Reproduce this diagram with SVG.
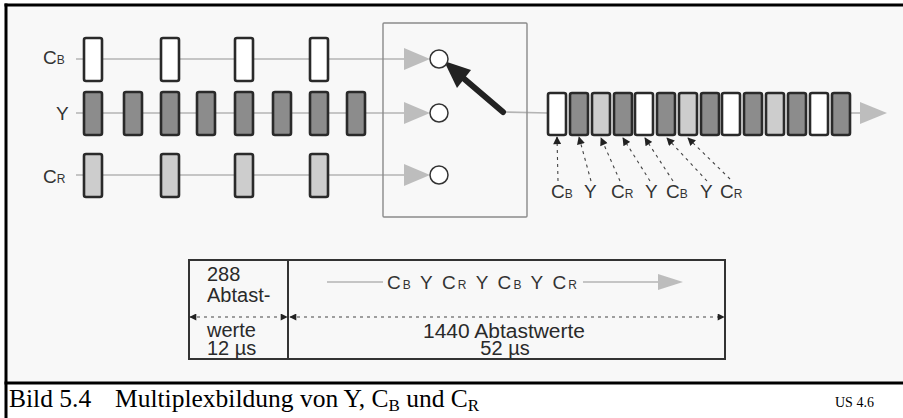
<svg xmlns="http://www.w3.org/2000/svg" width="903" height="418" viewBox="0 0 903 418">
<style>
.bx{stroke:#2a2a2a;stroke-width:2.6}
.w{fill:#ffffff}
.d{fill:#8c8c8c}
.l{fill:#cdcdcd}
.gl{stroke:#b4b4b4;stroke-width:1.6;fill:none}
.gh{fill:#bdbdbd}
.lab{font-family:"Liberation Sans",Arial,sans-serif;font-size:19px;fill:#333}
.sub{font-size:12px}
.tt{font-family:"Liberation Sans",Arial,sans-serif;font-size:20px;fill:#2a2a2a}
.da{stroke:#444;stroke-width:1.1;stroke-dasharray:3 4;fill:none}
.cap{font-family:"Liberation Serif","Times New Roman",serif;fill:#000}
</style>
<defs>
<marker id="ah" viewBox="0 0 10 10" refX="9" refY="5" markerWidth="9" markerHeight="8" markerUnits="userSpaceOnUse" orient="auto">
<path d="M0,0 L10,5 L0,10 z" fill="#222"/>
</marker>
<marker id="ahs" viewBox="0 0 10 10" refX="9" refY="5" markerWidth="8" markerHeight="7" markerUnits="userSpaceOnUse" orient="auto-start-reverse">
<path d="M0,0 L10,5 L0,10 z" fill="#222"/>
</marker>
</defs>
<rect x="0" y="0" width="903" height="418" fill="#ffffff"/>
<rect x="6" y="5" width="897" height="378" fill="#f8f8f8"/>
<g id="frame" fill="none" stroke="#000">
<line x1="4.5" y1="5" x2="903" y2="5" stroke-width="3"/>
<line x1="6" y1="3.5" x2="6" y2="418" stroke-width="3"/>
<line x1="4.5" y1="383" x2="903" y2="383" stroke-width="3"/>
</g>

<g id="connectors">
<line class="gl" x1="76" y1="59" x2="406" y2="59"/>
<line class="gl" x1="76" y1="113" x2="406" y2="113"/>
<line class="gl" x1="76" y1="175" x2="406" y2="175"/>
<polygon class="gh" points="404,48 430,59 404,70"/>
<polygon class="gh" points="404,102 430,113 404,124"/>
<polygon class="gh" points="404,164 430,175 404,186"/>
<line class="gl" x1="503" y1="112" x2="548" y2="113"/>
<line class="gl" x1="850" y1="113" x2="862" y2="113"/>
<polygon class="gh" points="860,102 887,113 860,124"/>
<line x1="503" y1="112" x2="462" y2="77" stroke="#222" stroke-width="6" stroke-linecap="round"/>
<polygon points="444,61 471,70 457,88" fill="#222"/>
<line class="da" marker-end="url(#ah)" x1="558" y1="181" x2="557" y2="137"/>
<line class="da" marker-end="url(#ah)" x1="591" y1="181" x2="579" y2="137"/>
<line class="da" marker-end="url(#ah)" x1="620" y1="181" x2="601" y2="138"/>
<line class="da" marker-end="url(#ah)" x1="650" y1="181" x2="623" y2="138"/>
<line class="da" marker-end="url(#ah)" x1="673" y1="181" x2="645" y2="138"/>
<line class="da" marker-end="url(#ah)" x1="707" y1="181" x2="667" y2="138"/>
<line class="da" marker-end="url(#ah)" x1="730" y1="179" x2="688" y2="138"/>
</g>

<g id="row-cb">
<text class="lab" x="43" y="64">C<tspan class="sub">B</tspan></text>
<rect class="bx w" x="84" y="38" width="18" height="43" rx="2"/>
<rect class="bx w" x="161" y="38" width="18" height="43" rx="2"/>
<rect class="bx w" x="235" y="38" width="18" height="43" rx="2"/>
<rect class="bx w" x="310" y="38" width="18" height="43" rx="2"/>
</g>
<g id="row-y">
<text class="lab" x="56" y="120">Y</text>
<rect class="bx d" x="84" y="92" width="18" height="43" rx="2"/>
<rect class="bx d" x="124" y="92" width="18" height="43" rx="2"/>
<rect class="bx d" x="161" y="92" width="18" height="43" rx="2"/>
<rect class="bx d" x="197" y="92" width="18" height="43" rx="2"/>
<rect class="bx d" x="235" y="92" width="18" height="43" rx="2"/>
<rect class="bx d" x="273" y="92" width="18" height="43" rx="2"/>
<rect class="bx d" x="310" y="92" width="18" height="43" rx="2"/>
<rect class="bx d" x="347" y="92" width="18" height="43" rx="2"/>
</g>
<g id="row-cr">
<text class="lab" x="43" y="183">C<tspan class="sub">R</tspan></text>
<rect class="bx l" x="84" y="154" width="18" height="43" rx="2"/>
<rect class="bx l" x="161" y="154" width="18" height="43" rx="2"/>
<rect class="bx l" x="235" y="154" width="18" height="43" rx="2"/>
<rect class="bx l" x="310" y="154" width="18" height="43" rx="2"/>
</g>

<g id="switch">
<rect x="383" y="23" width="144" height="194" fill="none" stroke="#8a8a8a" stroke-width="1.4" rx="1"/>
<circle cx="439" cy="59" r="9" fill="#fff" stroke="#333" stroke-width="1.5"/>
<circle cx="439" cy="113" r="9" fill="#fff" stroke="#333" stroke-width="1.5"/>
<circle cx="439" cy="175" r="9" fill="#fff" stroke="#333" stroke-width="1.5"/>
</g>

<g id="output-stream">
<rect class="bx w" x="548" y="93" width="18" height="42" rx="2"/>
<rect class="bx d" x="570" y="93" width="18" height="42" rx="2"/>
<rect class="bx l" x="592" y="93" width="18" height="42" rx="2"/>
<rect class="bx d" x="614" y="93" width="18" height="42" rx="2"/>
<rect class="bx w" x="635" y="93" width="18" height="42" rx="2"/>
<rect class="bx d" x="657" y="93" width="18" height="42" rx="2"/>
<rect class="bx l" x="679" y="93" width="18" height="42" rx="2"/>
<rect class="bx d" x="701" y="93" width="18" height="42" rx="2"/>
<rect class="bx w" x="722" y="93" width="18" height="42" rx="2"/>
<rect class="bx d" x="744" y="93" width="18" height="42" rx="2"/>
<rect class="bx l" x="766" y="93" width="18" height="42" rx="2"/>
<rect class="bx d" x="788" y="93" width="18" height="42" rx="2"/>
<rect class="bx w" x="810" y="93" width="18" height="42" rx="2"/>
<rect class="bx d" x="832" y="93" width="18" height="42" rx="2"/>
</g>

<g id="output-labels">
<text class="lab" x="551" y="198">C<tspan class="sub">B</tspan></text>
<text class="lab" x="584" y="198">Y</text>
<text class="lab" x="611" y="198">C<tspan class="sub">R</tspan></text>
<text class="lab" x="645" y="198">Y</text>
<text class="lab" x="666" y="198">C<tspan class="sub">B</tspan></text>
<text class="lab" x="700" y="198">Y</text>
<text class="lab" x="720" y="198">C<tspan class="sub">R</tspan></text>
</g>

<g id="table">
<rect x="189" y="260" width="536" height="99" fill="none" stroke="#333" stroke-width="2"/>
<line x1="288" y1="260" x2="288" y2="359" stroke="#333" stroke-width="2"/>
<text class="tt" x="207" y="281">288</text>
<text class="tt" x="207" y="302">Abtast-</text>
<text class="tt" x="207" y="337">werte</text>
<text class="tt" x="207" y="355">12 µs</text>
<line class="da" marker-start="url(#ahs)" marker-end="url(#ahs)" x1="190" y1="317" x2="287" y2="317"/>
<line class="da" marker-start="url(#ahs)" marker-end="url(#ahs)" x1="290" y1="317" x2="724" y2="317"/>
<line class="gl" x1="327" y1="282" x2="383" y2="282"/>
<line class="gl" x1="583" y1="282" x2="662" y2="282"/>
<polygon class="gh" points="658,274 683,282 658,290"/>
<text class="lab" x="387" y="289" textLength="190" lengthAdjust="spacing">C<tspan class="sub">B</tspan> Y C<tspan class="sub">R</tspan> Y C<tspan class="sub">B</tspan> Y C<tspan class="sub">R</tspan></text>
<text class="tt" x="504" y="338" text-anchor="middle" textLength="162" lengthAdjust="spacingAndGlyphs">1440 Abtastwerte</text>
<text class="tt" x="505" y="355" text-anchor="middle">52 µs</text>
</g>

<g id="caption">
<text class="cap" x="9" y="407" font-size="25.5">Bild 5.4<tspan x="115">Multiplexbildung von Y, C</tspan><tspan font-size="17" dy="4">B</tspan><tspan dy="-4"> und C</tspan><tspan font-size="17" dy="4">R</tspan></text>
<text class="cap" x="835" y="407" font-size="14">US 4.6</text>
</g>
</svg>
